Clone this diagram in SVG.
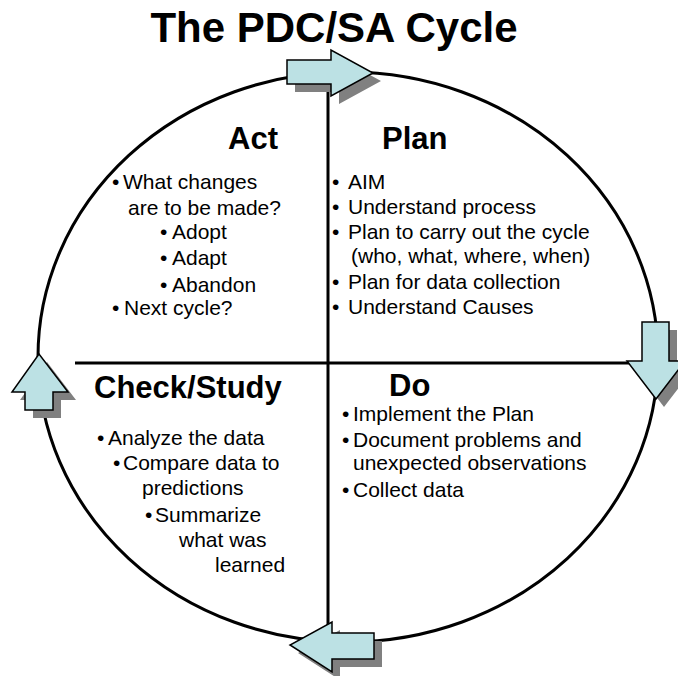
<svg xmlns="http://www.w3.org/2000/svg" width="678" height="676" viewBox="0 0 678 676">
<style>
.t{font-family:"Liberation Sans",Arial,sans-serif;fill:#000}
.title{font-size:42px;font-weight:bold}
.h{font-size:31px;font-weight:bold}
.b{font-size:21px}
.ln{stroke:#000;stroke-width:3;fill:none}
.arr{fill:#BCE1E4;stroke:#000;stroke-width:1.5;stroke-linejoin:miter}
.sh{fill:#808080;stroke:none}
</style>
<rect width="678" height="676" fill="#fff"/>
<text class="t title" x="334" y="42" text-anchor="middle">The PDC/SA Cycle</text>
<g id="connectors">
<ellipse class="ln" cx="348" cy="357" rx="310" ry="285"/>
<line class="ln" x1="328" y1="72" x2="328" y2="640"/>
<line class="ln" x1="75" y1="363" x2="640" y2="363"/>
</g>
<g id="arrow-top">
<polygon class="sh" transform="translate(8,8)" points="287,60 331,60 331,50 373,73 331,96 331,84 287,84"/>
<polygon class="arr" points="287,60 331,60 331,50 373,73 331,96 331,84 287,84"/>
</g>
<g id="arrow-right">
<polygon class="sh" transform="translate(8,8)" points="642,322 669,322 669,361 685,361 656,399 627,361 642,361"/>
<polygon class="arr" points="642,322 669,322 669,361 685,361 656,399 627,361 642,361"/>
</g>
<g id="arrow-bottom">
<polygon class="sh" transform="translate(8,8)" points="374,633 374,659 332,659 332,672 290,645 332,622 332,633"/>
<polygon class="arr" points="374,633 374,659 332,659 332,672 290,645 332,622 332,633"/>
</g>
<g id="arrow-left">
<polygon class="sh" transform="translate(8,8)" points="25,410 53,410 53,392 68,392 39,354 12,392 25,392"/>
<polygon class="arr" points="25,410 53,410 53,392 68,392 39,354 12,392 25,392"/>
</g>
<g id="act">
<text class="t h" x="228" y="149">Act</text>
<text class="t b"><tspan x="112" y="189">•</tspan><tspan x="123" y="189">What changes</tspan></text>
<text class="t b" x="128" y="215">are to be made?</text>
<text class="t b"><tspan x="160" y="239">•</tspan><tspan x="172" y="239">Adopt</tspan></text>
<text class="t b"><tspan x="160" y="265">•</tspan><tspan x="172" y="265">Adapt</tspan></text>
<text class="t b"><tspan x="160" y="292">•</tspan><tspan x="172" y="292">Abandon</tspan></text>
<text class="t b"><tspan x="112" y="315">•</tspan><tspan x="124" y="315">Next cycle?</tspan></text>
</g>
<g id="plan">
<text class="t h" x="382" y="149">Plan</text>
<text class="t b"><tspan x="332" y="189">•</tspan><tspan x="348" y="189">AIM</tspan></text>
<text class="t b"><tspan x="332" y="214">•</tspan><tspan x="348" y="214">Understand process</tspan></text>
<text class="t b"><tspan x="332" y="239">•</tspan><tspan x="348" y="239">Plan to carry out the cycle</tspan></text>
<text class="t b" x="351" y="263">(who, what, where, when)</text>
<text class="t b"><tspan x="332" y="289">•</tspan><tspan x="348" y="289">Plan for data collection</tspan></text>
<text class="t b"><tspan x="332" y="314">•</tspan><tspan x="348" y="314">Understand Causes</tspan></text>
</g>
<g id="check-study">
<text class="t h" x="94" y="398">Check/Study</text>
<text class="t b"><tspan x="97" y="445">•</tspan><tspan x="108" y="445">Analyze the data</tspan></text>
<text class="t b"><tspan x="113" y="470">•</tspan><tspan x="123" y="470">Compare data to</tspan></text>
<text class="t b" x="142" y="495">predictions</text>
<text class="t b"><tspan x="145" y="522">•</tspan><tspan x="155" y="522">Summarize</tspan></text>
<text class="t b" x="179" y="547">what was</text>
<text class="t b" x="215" y="572">learned</text>
</g>
<g id="do">
<text class="t h" x="389" y="396">Do</text>
<text class="t b"><tspan x="342" y="421">•</tspan><tspan x="353" y="421">Implement the Plan</tspan></text>
<text class="t b"><tspan x="342" y="447">•</tspan><tspan x="353" y="447">Document problems and</tspan></text>
<text class="t b" x="353" y="470">unexpected observations</text>
<text class="t b"><tspan x="342" y="497">•</tspan><tspan x="353" y="497">Collect data</tspan></text>
</g>
</svg>
